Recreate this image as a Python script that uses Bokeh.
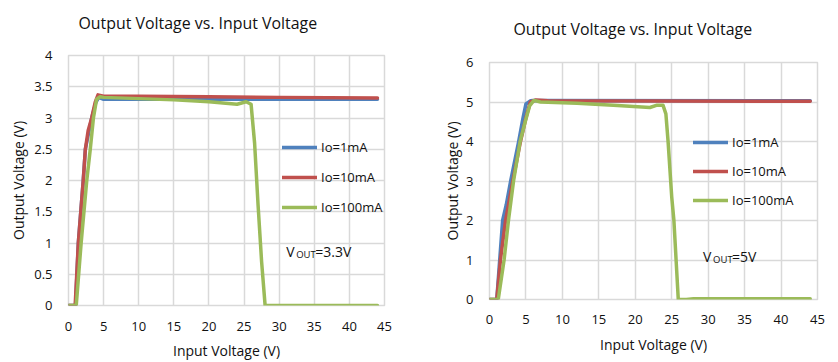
from bokeh.plotting import figure
from bokeh.models import (FixedTicker, CustomJSTickFormatter, Legend, LegendItem, Label,
                          Range1d, Title)
from bokeh.embed import file_html
from bokeh.resources import INLINE

# ---------------- data ----------------
title_text = "Output Voltage vs. Input Voltage"
x_label = "Input Voltage (V)"
y_label = "Output Voltage (V)"
series_names = ["Io=1mA", "Io=10mA", "Io=100mA"]

x_ticks = [0, 5, 10, 15, 20, 25, 30, 35, 40, 45]
x_tick_labels = ["0", "5", "10", "15", "20", "25", "30", "35", "40", "45"]

# Chart A : VOUT = 3.3 V
a_y_ticks = [0, 0.5, 1, 1.5, 2, 2.5, 3, 3.5, 4]
a_y_tick_labels = ["0", "0.5", "1", "1.5", "2", "2.5", "3", "3.5", "4"]
a_note = "=3.3V"

a_x_1mA = [0, 1.0, 1.4, 2.1, 2.4, 3.3, 3.9, 4.3, 5, 10, 20, 30, 44]
a_y_1mA = [0, 0, 1.0, 2.0, 2.5, 3.0, 3.25, 3.33, 3.30, 3.30, 3.30, 3.30, 3.30]
a_x_10mA = [0, 0.95, 1.4, 2.1, 2.4, 2.8, 3.3, 3.8, 4.2, 5, 10, 20, 30, 44]
a_y_10mA = [0, 0, 1.0, 2.0, 2.5, 2.8, 3.0, 3.25, 3.37, 3.35, 3.35, 3.34, 3.33, 3.32]
a_x_100mA = [0, 1.1, 1.8, 2.6, 3.1, 3.55, 4.0, 4.5, 5, 10, 15, 20, 24, 25.3, 26,
             26.5, 27, 27.5, 28, 29, 44]
a_y_100mA = [0, 0, 1.0, 2.0, 2.5, 3.0, 3.3, 3.34, 3.33, 3.31, 3.29, 3.26, 3.22, 3.26, 3.22,
             2.6, 1.6, 0.7, 0, 0, 0]

# Chart B : VOUT = 5 V
b_y_ticks = [0, 1, 2, 3, 4, 5, 6]
b_y_tick_labels = ["0", "1", "2", "3", "4", "5", "6"]
b_note = "=5V"

b_x_1mA = [0, 1.0, 1.4, 1.8, 2.3, 2.9, 4.0, 4.6, 5.0, 5.6, 6, 44]
b_y_1mA = [0, 0, 1.0, 2.0, 2.4, 3.0, 4.0, 4.6, 4.95, 5.03, 5.04, 5.03]
b_x_10mA = [0, 1.0, 1.5, 2.2, 3.2, 4.25, 5.0, 5.6, 6.3, 8, 44]
b_y_10mA = [0, 0, 1.0, 2.0, 3.0, 4.0, 4.6, 5.0, 5.05, 5.03, 5.02]
b_x_100mA = [0, 1.2, 2.0, 2.6, 3.3, 4.2, 4.9, 5.5, 6.1, 7, 12, 17, 22, 23, 23.8, 24.2,
             24.5, 25.0, 25.3, 25.6, 25.9, 27, 28, 44]
b_y_100mA = [0, 0, 1.0, 2.0, 3.0, 4.0, 4.5, 4.9, 5.04, 5.0, 4.97, 4.92, 4.86, 4.92, 4.92, 4.7,
             4.0, 2.6, 2.0, 1.0, 0, 0, 0.02, 0.02]

colors = ["#4F81BD", "#C0504D", "#9BBB59"]
FONT = "Open Sans"
GRID = "#D9D9D9"
TXT = "#111111"


def tick_fmt(tvals, tlabels):
    return CustomJSTickFormatter(args=dict(tvals=tvals, tlabels=tlabels),
                                 code="const i = tvals.indexOf(tick); return i >= 0 ? tlabels[i] : '';")


def make_chart(width, height, borders, y_max, y_ticks, y_labels, series, legend_loc,
               legend_spacing, note, note_xy, title_cfg, axis_cfg):
    bl, br, bb = borders
    p = figure(width=width, height=height, output_backend="svg", toolbar_location=None,
               x_range=Range1d(0, 45), y_range=Range1d(0, y_max),
               min_border_left=bl, min_border_right=br, min_border_top=0, min_border_bottom=bb)
    t_offset, t_standoff, sp_standoff = title_cfg
    p.title.text = title_text
    p.title.align = "left"
    p.title.offset = t_offset
    p.title.vertical_align = "middle"
    p.title.text_font = FONT
    p.title.text_font_size = "15.9px"
    p.title.text_font_style = "normal"
    p.title.text_color = TXT
    p.title.standoff = t_standoff
    # thin spacer between the frame and the title
    p.add_layout(Title(text=" ", text_font_size="1px", standoff=sp_standoff,
                       text_color="white"), "above")

    p.outline_line_color = GRID
    p.outline_line_width = 1.5
    p.background_fill_color = "white"
    p.border_fill_color = "white"

    p.xaxis.ticker = FixedTicker(ticks=x_ticks)
    p.xaxis.formatter = tick_fmt(x_ticks, x_tick_labels)
    p.yaxis.ticker = FixedTicker(ticks=y_ticks)
    p.yaxis.formatter = tick_fmt(y_ticks, y_labels)
    for ax in (p.xaxis, p.yaxis):
        ax.axis_line_color = None
        ax.major_tick_line_color = None
        ax.minor_tick_line_color = None
        ax.major_tick_out = 0
        ax.major_tick_in = 0
        ax.major_label_text_font = FONT
        ax.major_label_text_font_size = "13px"
        ax.major_label_text_color = TXT
        ax.axis_label_text_font = FONT
        ax.axis_label_text_font_size = "14px"
        ax.axis_label_text_font_style = "normal"
        ax.axis_label_text_color = TXT
    xs_lab, xs_ax, ys_lab, ys_ax = axis_cfg
    p.xaxis.major_label_standoff = xs_lab
    p.xaxis.axis_label_standoff = xs_ax
    p.yaxis.major_label_standoff = ys_lab
    p.yaxis.axis_label_standoff = ys_ax
    p.xaxis.axis_label = x_label
    p.yaxis.axis_label = y_label

    p.xgrid.ticker = FixedTicker(ticks=x_ticks)
    p.ygrid.ticker = FixedTicker(ticks=y_ticks)
    p.grid.grid_line_color = GRID
    p.grid.grid_line_width = 1.5

    items = []
    for (xs, ys), name, c in zip(series, series_names, colors):
        r = p.line(xs, ys, line_color=c, line_width=3.5, line_join="round", line_cap="round")
        items.append(LegendItem(label=name, renderers=[r]))
    leg = Legend(items=items, location=legend_loc, border_line_color=None,
                 background_fill_alpha=0, padding=0, margin=0, spacing=legend_spacing,
                 glyph_width=35, glyph_height=20, label_height=20, label_standoff=4,
                 label_text_font=FONT, label_text_font_size="13px", label_text_color=TXT)
    p.add_layout(leg, "center")

    nx, ny = note_xy
    p.add_layout(Label(x=nx, y=ny, text="V", text_font=FONT, text_font_size="14px",
                       text_color=TXT, text_baseline="alphabetic"))
    p.add_layout(Label(x=nx, y=ny, x_offset=10, y_offset=-3, text="OUT", text_font=FONT,
                       text_font_size="9.5px", text_color=TXT, text_baseline="alphabetic"))
    p.add_layout(Label(x=nx, y=ny, x_offset=29, text=note, text_font=FONT,
                       text_font_size="14px", text_color=TXT, text_baseline="alphabetic"))
    return p


pa = make_chart(418, 362, (68, 34, 55),
                4, a_y_ticks, a_y_tick_labels,
                [(a_x_1mA, a_y_1mA), (a_x_10mA, a_y_10mA), (a_x_100mA, a_y_100mA)],
                (214, 88), 10, a_note, (31.0, 0.86),
                (10, 21, 7), (16, 7, 16, 3))
pb = make_chart(418, 362, (71, 19, 63),
                6, b_y_ticks, b_y_tick_labels,
                [(b_x_1mA, b_y_1mA), (b_x_10mA, b_y_10mA), (b_x_100mA, b_y_100mA)],
                (204, 89), 9, b_note, (29.3, 1.09),
                (24, 33, 2), (15, 8, 16, 1))

# the two charts are independent roots, laid side by side
SIDE_BY_SIDE = """
{% block postamble %}
<style>
  body { display: flex !important; flex-direction: row; align-items: flex-start; }
</style>
{% endblock %}
"""

open("out.html", "w").write(file_html([pa, pb], INLINE, template=SIDE_BY_SIDE))
